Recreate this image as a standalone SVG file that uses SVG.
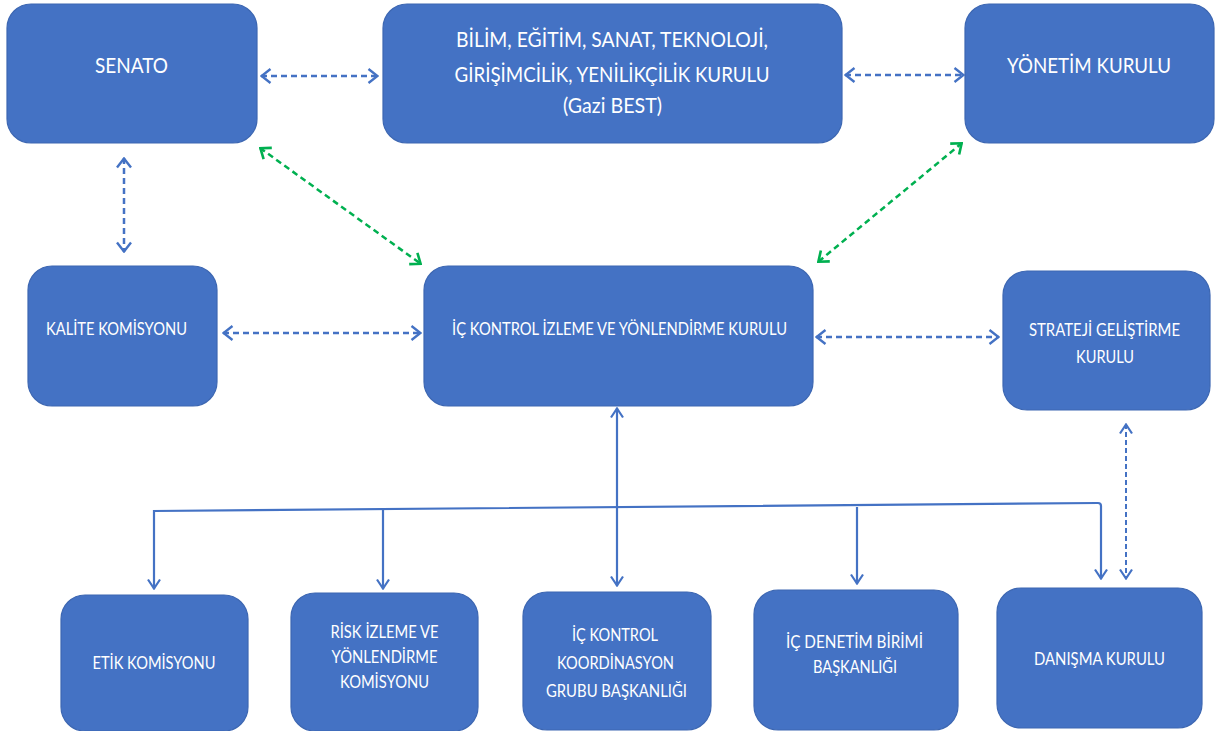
<svg xmlns="http://www.w3.org/2000/svg" width="1218" height="731" viewBox="0 0 1218 731">
<style>
.box{fill:#4472C4;stroke:#3D67B2;stroke-width:1.2}
.t{font-family:Lato,"Open Sans","Liberation Sans",sans-serif;fill:#FFFFFF;text-anchor:middle}
.big{font-size:22px}
.mid{font-size:18px}
.sm{font-size:17px}
.dash{fill:none;stroke:#4472C4;stroke-width:2.5;stroke-dasharray:6 4}
.dash2{fill:none;stroke:#4472C4;stroke-width:2;stroke-dasharray:5 3}
.green{fill:none;stroke:#00B050;stroke-width:2.5;stroke-dasharray:6 4}
.solid{fill:none;stroke:#4472C4;stroke-width:2.2}
</style>
<defs>
<marker id="ab" viewBox="0 0 12 16" refX="11" refY="8" markerWidth="12" markerHeight="16" markerUnits="userSpaceOnUse" orient="auto-start-reverse">
<path d="M1.5,1 L10.5,8 L1.5,15" fill="none" stroke="#4472C4" stroke-width="2.4"/>
</marker>
<marker id="ag" viewBox="0 0 12 16" refX="11" refY="8" markerWidth="12" markerHeight="16" markerUnits="userSpaceOnUse" orient="auto-start-reverse">
<path d="M1.5,1 L10.5,8 L1.5,15" fill="none" stroke="#00B050" stroke-width="2.6"/>
</marker>
<marker id="as" viewBox="0 0 12 14" refX="11" refY="7" markerWidth="12" markerHeight="14" markerUnits="userSpaceOnUse" orient="auto-start-reverse">
<path d="M1.5,1 L10.5,7 L1.5,13" fill="none" stroke="#4472C4" stroke-width="2.2"/>
</marker>
</defs>

<g id="connectors">
<line class="dash" x1="261" y1="76" x2="378" y2="76" marker-start="url(#ab)" marker-end="url(#ab)"/>
<line class="dash" x1="845" y1="75" x2="964" y2="75" marker-start="url(#ab)" marker-end="url(#ab)"/>
<line class="dash" x1="124" y1="158" x2="124" y2="252" marker-start="url(#ab)" marker-end="url(#ab)"/>
<line class="dash" x1="223" y1="333" x2="421" y2="333" marker-start="url(#ab)" marker-end="url(#ab)"/>
<line class="dash" x1="816" y1="337" x2="999" y2="337" marker-start="url(#ab)" marker-end="url(#ab)"/>
<line class="green" x1="260" y1="148" x2="421" y2="264" marker-start="url(#ag)" marker-end="url(#ag)"/>
<line class="green" x1="962" y1="143" x2="818" y2="262" marker-start="url(#ag)" marker-end="url(#ag)"/>
<line class="dash2" x1="1126" y1="424" x2="1126" y2="579" marker-start="url(#as)" marker-end="url(#as)"/>
<line class="solid" x1="617" y1="408" x2="617" y2="586" marker-start="url(#as)" marker-end="url(#as)"/>
<path class="solid" d="M154,589 L154,511 L1098,503 Q1101,503 1101,506 L1101,579" marker-start="url(#as)" marker-end="url(#as)"/>
<line class="solid" x1="383" y1="509" x2="383" y2="589" marker-end="url(#as)"/>
<line class="solid" x1="857" y1="507" x2="857" y2="584" marker-end="url(#as)"/>
</g>

<g id="senato">
<rect class="box" x="7" y="4" width="250" height="139" rx="24"/>
<text class="t big" x="131.5" y="73" textLength="73" lengthAdjust="spacingAndGlyphs">SENATO</text>
</g>
<g id="gazi-best">
<rect class="box" x="383" y="4" width="459" height="139" rx="24"/>
<text class="t big" x="612" y="47" textLength="312" lengthAdjust="spacingAndGlyphs">BİLİM, EĞİTİM, SANAT, TEKNOLOJİ,</text>
<text class="t big" x="612" y="82" textLength="315" lengthAdjust="spacingAndGlyphs">GİRİŞİMCİLİK, YENİLİKÇİLİK KURULU</text>
<text class="t big" x="612.5" y="113" textLength="99" lengthAdjust="spacingAndGlyphs">(Gazi BEST)</text>
</g>
<g id="yonetim-kurulu">
<rect class="box" x="965" y="4" width="249" height="139" rx="24"/>
<text class="t big" x="1089" y="73" textLength="164" lengthAdjust="spacingAndGlyphs">YÖNETİM KURULU</text>
</g>
<g id="kalite-komisyonu">
<rect class="box" x="28" y="266" width="189" height="140" rx="24"/>
<text class="t mid" x="116.5" y="335" textLength="141" lengthAdjust="spacingAndGlyphs">KALİTE KOMİSYONU</text>
</g>
<g id="ic-kontrol-izleme">
<rect class="box" x="424" y="266" width="389" height="140" rx="24"/>
<text class="t mid" x="619.5" y="335" textLength="335" lengthAdjust="spacingAndGlyphs">İÇ KONTROL İZLEME VE YÖNLENDİRME KURULU</text>
</g>
<g id="strateji">
<rect class="box" x="1003" y="271" width="207" height="139" rx="24"/>
<text class="t mid" x="1104.5" y="336" textLength="151" lengthAdjust="spacingAndGlyphs">STRATEJİ GELİŞTİRME</text>
<text class="t mid" x="1105" y="363" textLength="58" lengthAdjust="spacingAndGlyphs">KURULU</text>
</g>
<g id="etik">
<rect class="box" x="61" y="595" width="187" height="136" rx="24"/>
<text class="t sm" x="154" y="669" textLength="123" lengthAdjust="spacingAndGlyphs">ETİK KOMİSYONU</text>
</g>
<g id="risk">
<rect class="box" x="291" y="593" width="187" height="138" rx="24"/>
<text class="t sm" x="384.5" y="638" textLength="108" lengthAdjust="spacingAndGlyphs">RİSK İZLEME VE</text>
<text class="t sm" x="384.5" y="663" textLength="106" lengthAdjust="spacingAndGlyphs">YÖNLENDİRME</text>
<text class="t sm" x="384.5" y="688" textLength="89" lengthAdjust="spacingAndGlyphs">KOMİSYONU</text>
</g>
<g id="ic-kontrol-koordinasyon">
<rect class="box" x="523" y="592" width="188" height="138" rx="24"/>
<text class="t sm" x="615" y="641" textLength="86" lengthAdjust="spacingAndGlyphs">İÇ KONTROL</text>
<text class="t sm" x="615.5" y="669" textLength="117" lengthAdjust="spacingAndGlyphs">KOORDİNASYON</text>
<text class="t sm" x="616.5" y="697" textLength="141" lengthAdjust="spacingAndGlyphs">GRUBU BAŞKANLIĞI</text>
</g>
<g id="ic-denetim">
<rect class="box" x="754" y="590" width="204" height="140" rx="24"/>
<text class="t sm" x="854.5" y="648" textLength="137" lengthAdjust="spacingAndGlyphs">İÇ DENETİM BİRİMİ</text>
<text class="t sm" x="855" y="673" textLength="84" lengthAdjust="spacingAndGlyphs">BAŞKANLIĞI</text>
</g>
<g id="danisma">
<rect class="box" x="997" y="588" width="205" height="140" rx="24"/>
<text class="t sm" x="1099.5" y="665" textLength="131" lengthAdjust="spacingAndGlyphs">DANIŞMA KURULU</text>
</g>
</svg>
